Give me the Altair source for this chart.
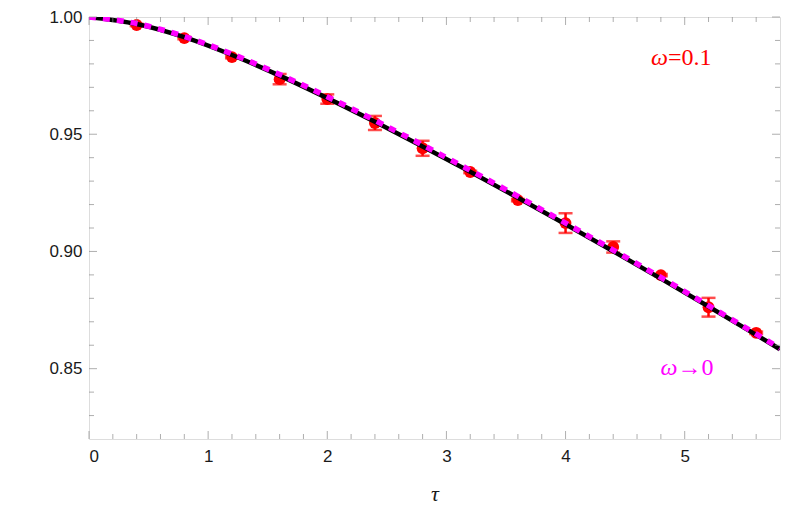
import altair as alt
import pandas as pd

# ---- data ----
tau_curve = [0.0, 0.4, 0.8, 1.2, 1.6, 2.0, 2.4, 2.8, 3.2, 3.6, 4.0, 4.4, 4.8, 5.2, 5.6, 5.8]
f_exact = [1.0000, 0.9970, 0.9914, 0.9838, 0.9750, 0.9654, 0.9553, 0.9448, 0.9340,
           0.9229, 0.9116, 0.9001, 0.8884, 0.8765, 0.8644, 0.8583]
f_limit = [1.0000, 0.9972, 0.9917, 0.9842, 0.9755, 0.9660, 0.9559, 0.9454, 0.9346,
           0.9235, 0.9121, 0.9006, 0.8889, 0.8769, 0.8648, 0.8587]

tau_pts = [0.4, 0.8, 1.2, 1.6, 2.0, 2.4, 2.8, 3.2, 3.6, 4.0, 4.4, 4.8, 5.2, 5.6]
f_pts = [0.9966, 0.9910, 0.9829, 0.9735, 0.9650, 0.9548, 0.9440, 0.9339, 0.9219,
         0.9121, 0.9019, 0.8899, 0.8762, 0.8653]
f_err = [0.0005, 0.0005, 0.0005, 0.0022, 0.0020, 0.0030, 0.0032, 0.0005, 0.0005,
         0.0042, 0.0024, 0.0005, 0.0040, 0.0005]

x_major = [0, 1, 2, 3, 4, 5]
x_minor = [0.2, 0.4, 0.6, 0.8, 1.2, 1.4, 1.6, 1.8, 2.2, 2.4, 2.6, 2.8, 3.2, 3.4, 3.6, 3.8,
           4.2, 4.4, 4.6, 4.8, 5.2, 5.4, 5.6]
y_major = [0.85, 0.90, 0.95, 1.00]
y_minor = [0.83, 0.84, 0.86, 0.87, 0.88, 0.89, 0.91, 0.92, 0.93, 0.94, 0.96, 0.97, 0.98, 0.99]

x_lo, x_hi = 0.0, 5.8
y_lo, y_hi = 0.82, 1.00

ann_text_a = ["ω", "ω"]
ann_text_b = ["=0.1", "→0"]
ann_x = [4.86, 4.94]
ann_y = [0.9826, 0.8502]
ann_color = ["#ff0000", "#ff00ff"]

# ---- tables ----
curve_df = pd.DataFrame({"tau": tau_curve, "exact": f_exact, "limit": f_limit})
pts_df = pd.DataFrame({"tau": tau_pts, "f": f_pts, "err": f_err})
pts_df["lo"] = pts_df["f"] - pts_df["err"]
pts_df["hi"] = pts_df["f"] + pts_df["err"]
ann_df = pd.DataFrame({"x": ann_x, "y": ann_y, "a": ann_text_a, "b": ann_text_b, "c": ann_color})

xt = {"major": pd.DataFrame({"v": x_major}), "minor": pd.DataFrame({"v": x_minor})}
yt = {"major": pd.DataFrame({"v": y_major}), "minor": pd.DataFrame({"v": y_minor})}

xscale = alt.Scale(domain=[x_lo, x_hi], nice=False, zero=False)
yscale = alt.Scale(domain=[y_lo, y_hi], nice=False, zero=False)

LABEL_FONT = "Liberation Sans"
xaxis = alt.Axis(values=x_major, format="d", domain=False, ticks=False, grid=False,
                 labelFont=LABEL_FONT, labelFontSize=17, labelColor="#1a1a1a", labelPadding=9,
                 title="τ", titleFont="Liberation Serif", titleFontStyle="italic",
                 titleFontWeight="normal", titleFontSize=22, titleColor="#1a1a1a", titlePadding=19)
yaxis = alt.Axis(values=y_major, format=".2f", domain=False, ticks=False, grid=False,
                 labelFont=LABEL_FONT, labelFontSize=17, labelColor="#1a1a1a", labelPadding=7,
                 title=None)

X = lambda f: alt.X(f, type="quantitative", scale=xscale, axis=xaxis)
Y = lambda f: alt.Y(f, type="quantitative", scale=yscale, axis=yaxis)

RED = "#ff0000"

bars = alt.Chart(pts_df).mark_rule(color=RED, strokeWidth=2.5).encode(
    x=X("tau"), y=Y("lo"), y2="hi")
caps_lo = alt.Chart(pts_df).mark_tick(color=RED, orient="horizontal", size=14, thickness=2.5).encode(
    x=X("tau"), y=Y("lo"))
caps_hi = alt.Chart(pts_df).mark_tick(color=RED, orient="horizontal", size=14, thickness=2.5).encode(
    x=X("tau"), y=Y("hi"))
dots = alt.Chart(pts_df).mark_circle(color=RED, opacity=1, size=140).encode(
    x=X("tau"), y=Y("f"))

line_exact = alt.Chart(curve_df).mark_line(color="#000000", strokeWidth=4.5,
                                           interpolate="monotone", clip=True).encode(
    x=X("tau"), y=Y("exact"))
line_limit = alt.Chart(curve_df).mark_line(color="#ff00ff", strokeWidth=5.5, strokeDash=[7, 7],
                                           interpolate="monotone", clip=True).encode(
    x=X("tau"), y=Y("limit"))

ann_a = alt.Chart(ann_df).mark_text(font="Liberation Serif", fontStyle="italic", fontSize=24,
                                    align="right", baseline="middle").encode(
    x=X("x"), y=Y("y"), text="a:N", color=alt.Color("c:N", scale=None))
ann_b = alt.Chart(ann_df).mark_text(font="Liberation Serif", fontSize=24,
                                    align="left", baseline="middle").encode(
    x=X("x"), y=Y("y"), text="b:N", color=alt.Color("c:N", scale=None))

TICK = "#8c8c8c"

def frame_ticks(d, orient, pos, offset_sign):
    layers = []
    for kind, ln in (("major", 8), ("minor", 5)):
        sub = d[kind]
        if orient == "vertical":
            off = {"yOffset": offset_sign * ln / 2}
            enc = dict(x=X("v"),
                       y=alt.YDatum(pos, type="quantitative", scale=yscale, axis=yaxis))
        else:
            off = {"xOffset": offset_sign * ln / 2}
            enc = dict(y=Y("v"),
                       x=alt.XDatum(pos, type="quantitative", scale=xscale, axis=xaxis))
        layers.append(alt.Chart(sub).mark_tick(orient=orient, size=ln, thickness=1,
                                               color=TICK, **off).encode(**enc))
    return layers

tick_layers = []
tick_layers += frame_ticks(xt, "vertical", y_lo, -1)
tick_layers += frame_ticks(xt, "vertical", y_hi, 1)
tick_layers += frame_ticks(yt, "horizontal", x_lo, 1)
tick_layers += frame_ticks(yt, "horizontal", x_hi, -1)

chart = alt.layer(bars, caps_lo, caps_hi, dots, line_exact, line_limit, ann_a, ann_b,
                  *tick_layers).properties(
    width=691, height=422,
    autosize=alt.AutoSizeParams(type="none"),
    padding={"left": 81, "top": 9, "right": 1, "bottom": 68},
).configure_view(stroke=TICK, strokeWidth=1).configure(background="white")

chart.save("out.html", embed_options={"renderer": "svg", "actions": False})
